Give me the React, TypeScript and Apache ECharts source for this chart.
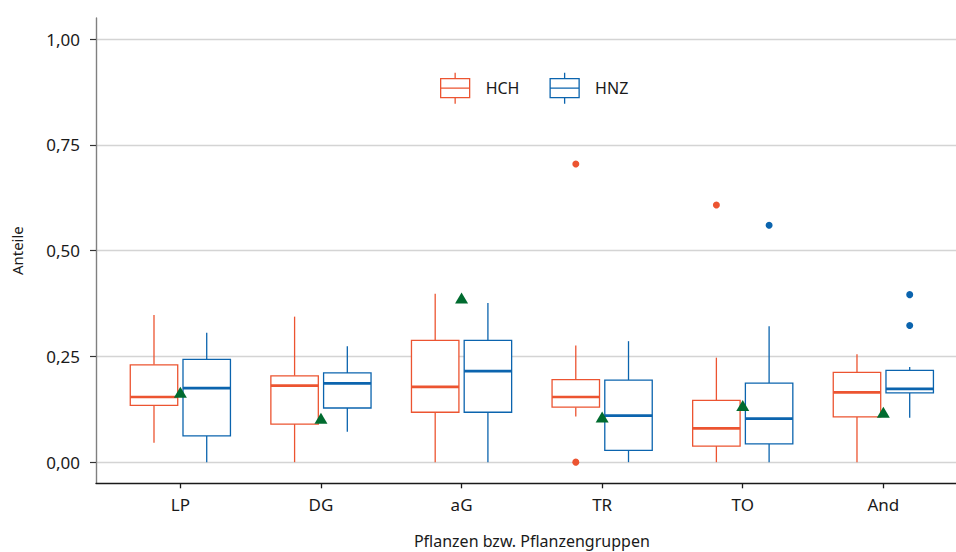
import React, { useEffect, useRef } from 'react';
import * as echarts from 'echarts';

const categories = ['LP', 'DG', 'aG', 'TR', 'TO', 'And'];
const groups = ['HCH', 'HNZ'];
// [min, Q1, median, Q3, max]
const hchStats = [
  [0.046, 0.134, 0.154, 0.230, 0.348],
  [0.0, 0.090, 0.181, 0.204, 0.344],
  [0.0, 0.118, 0.178, 0.288, 0.398],
  [0.108, 0.130, 0.154, 0.195, 0.276],
  [0.0, 0.038, 0.080, 0.146, 0.247],
  [0.0, 0.107, 0.165, 0.212, 0.255],
];
const hnzStats = [
  [0.0, 0.062, 0.175, 0.243, 0.306],
  [0.072, 0.128, 0.186, 0.211, 0.274],
  [0.0, 0.118, 0.215, 0.288, 0.376],
  [0.0, 0.028, 0.110, 0.194, 0.286],
  [0.0, 0.043, 0.103, 0.187, 0.321],
  [0.105, 0.164, 0.173, 0.217, 0.225],
];
// [category index, value]
const hchOutliers = [
  [3, 0.705],
  [3, 0.0],
  [4, 0.608],
];
const hnzOutliers = [
  [4, 0.56],
  [5, 0.396],
  [5, 0.323],
];
const meanValues = [0.165, 0.104, 0.388, 0.107, 0.134, 0.118];
const yTicks = [0, 0.25, 0.5, 0.75, 1.0];

const COLORS: Record<string, string> = { HCH: '#ec5431', HNZ: '#0b64ae' };
const MEAN_COLOR = '#006b2f';
const FONT = 'Noto Sans';
const TEXT_COLOR = '#1a1a1a';
const DODGE = 0.1875;
const BOX_W = 0.3375;
const LEGEND_ICON = 'path://M0,6L29,6L29,25L0,25ZM0,15.5L29,15.5M14.5,0L14.5,6M14.5,25L14.5,31';

function boxSeries(name: string, stats: number[][], offset: number, color: string) {
  return {
    type: 'custom',
    name,
    data: stats.map((s, i) => [i + 1 + offset, ...s]),
    encode: { x: 0, y: [1, 2, 3, 4, 5] },
    z: 3,
    renderItem: (params: any, api: any) => {
      const x = api.value(0);
      const p = (v: number) => api.coord([x, v]);
      const lo = p(api.value(1));
      const q1 = p(api.value(2));
      const md = p(api.value(3));
      const q3 = p(api.value(4));
      const hi = p(api.value(5));
      const half = api.size([BOX_W, 0])[0] / 2;
      const cx = lo[0];
      const thin = { stroke: color, lineWidth: 1.3, fill: 'none' };
      return {
        type: 'group',
        children: [
          { type: 'line', shape: { x1: cx, y1: lo[1], x2: cx, y2: q1[1] }, style: thin },
          { type: 'line', shape: { x1: cx, y1: q3[1], x2: cx, y2: hi[1] }, style: thin },
          {
            type: 'rect',
            shape: { x: cx - half, y: q3[1], width: 2 * half, height: q1[1] - q3[1] },
            style: { fill: '#ffffff', stroke: color, lineWidth: 1.3 },
          },
          {
            type: 'line',
            shape: { x1: cx - half, y1: md[1], x2: cx + half, y2: md[1] },
            style: { stroke: color, lineWidth: 2.7 },
          },
        ],
      };
    },
  };
}

function outlierSeries(name: string, pts: number[][], offset: number, color: string) {
  return {
    type: 'scatter',
    name,
    data: pts.map(([i, v]) => [i + 1 + offset, v]),
    symbol: 'circle',
    symbolSize: 7,
    itemStyle: { color, opacity: 1 },
    z: 4,
  };
}

export default function App() {
  const ref = useRef<HTMLDivElement>(null);
  useEffect(() => {
    document.body.style.margin = '0';
    if (!ref.current) return;
    const chart = echarts.init(ref.current, undefined, { renderer: 'svg' });
    const xTicks = categories.map((_, i) => i + 1);
    chart.setOption({
      animation: false,
      backgroundColor: '#ffffff',
      textStyle: { fontFamily: FONT },
      grid: { left: 96, right: -11.7, top: 18, bottom: 68.7, containLabel: false, outerBoundsMode: 'none' },
      legend: {
        left: 440,
        top: 72,
        padding: 0,
        itemWidth: 29,
        itemHeight: 31,
        itemGap: 30,
        selectedMode: false,
        textStyle: { fontFamily: FONT, fontSize: 16, color: TEXT_COLOR, padding: [0, 0, 0, 11] },
        data: groups.map((g) => ({
          name: g,
          icon: LEGEND_ICON,
          itemStyle: { color: '#ffffff', borderColor: COLORS[g], borderWidth: 1.3 },
        })),
      },
      xAxis: {
        type: 'value',
        min: 0.4,
        max: 6.6,
        name: 'Pflanzen bzw. Pflanzengruppen',
        nameLocation: 'middle',
        nameGap: 50,
        nameTextStyle: { fontFamily: FONT, fontSize: 16, color: TEXT_COLOR },
        axisLine: { show: true, onZero: false, lineStyle: { color: '#1a1a1a', width: 1.3 } },
        axisTick: { show: true, customValues: xTicks, length: 5, lineStyle: { color: '#1a1a1a', width: 1.3 } },
        axisLabel: {
          customValues: xTicks,
          formatter: (v: number) => categories[Math.round(v) - 1] ?? '',
          margin: 13,
          fontFamily: FONT,
          fontSize: 17,
          color: TEXT_COLOR,
        },
        splitLine: { show: false },
      },
      yAxis: {
        type: 'value',
        min: -0.05,
        max: 1.05,
        name: 'Anteile',
        nameLocation: 'middle',
        nameGap: 72,
        nameTextStyle: { fontFamily: FONT, fontSize: 15, color: TEXT_COLOR },
        axisLine: { show: true, onZero: false, lineStyle: { color: '#808080', width: 1.4 } },
        axisTick: { show: true, customValues: yTicks, length: 6, lineStyle: { color: '#333333', width: 1.2 } },
        axisLabel: {
          customValues: yTicks,
          formatter: (v: number) => v.toFixed(2).replace('.', ','),
          margin: 16,
          fontFamily: FONT,
          fontSize: 17,
          color: TEXT_COLOR,
        },
        splitLine: { show: true, lineStyle: { color: '#d4d4d4', width: 1.3 } },
      },
      series: [
        boxSeries('HCH', hchStats, -DODGE, COLORS.HCH),
        boxSeries('HNZ', hnzStats, DODGE, COLORS.HNZ),
        outlierSeries('HCH', hchOutliers, -DODGE, COLORS.HCH),
        outlierSeries('HNZ', hnzOutliers, DODGE, COLORS.HNZ),
        {
          type: 'scatter',
          name: 'Mittelwert',
          data: meanValues.map((v, i) => [i + 1, v]),
          symbol: 'triangle',
          symbolSize: [13, 11],
          itemStyle: { color: MEAN_COLOR, opacity: 1 },
          z: 5,
        },
      ],
    });
    return () => chart.dispose();
  }, []);
  return <div ref={ref} style={{ width: 956, height: 552 }} />;
}
